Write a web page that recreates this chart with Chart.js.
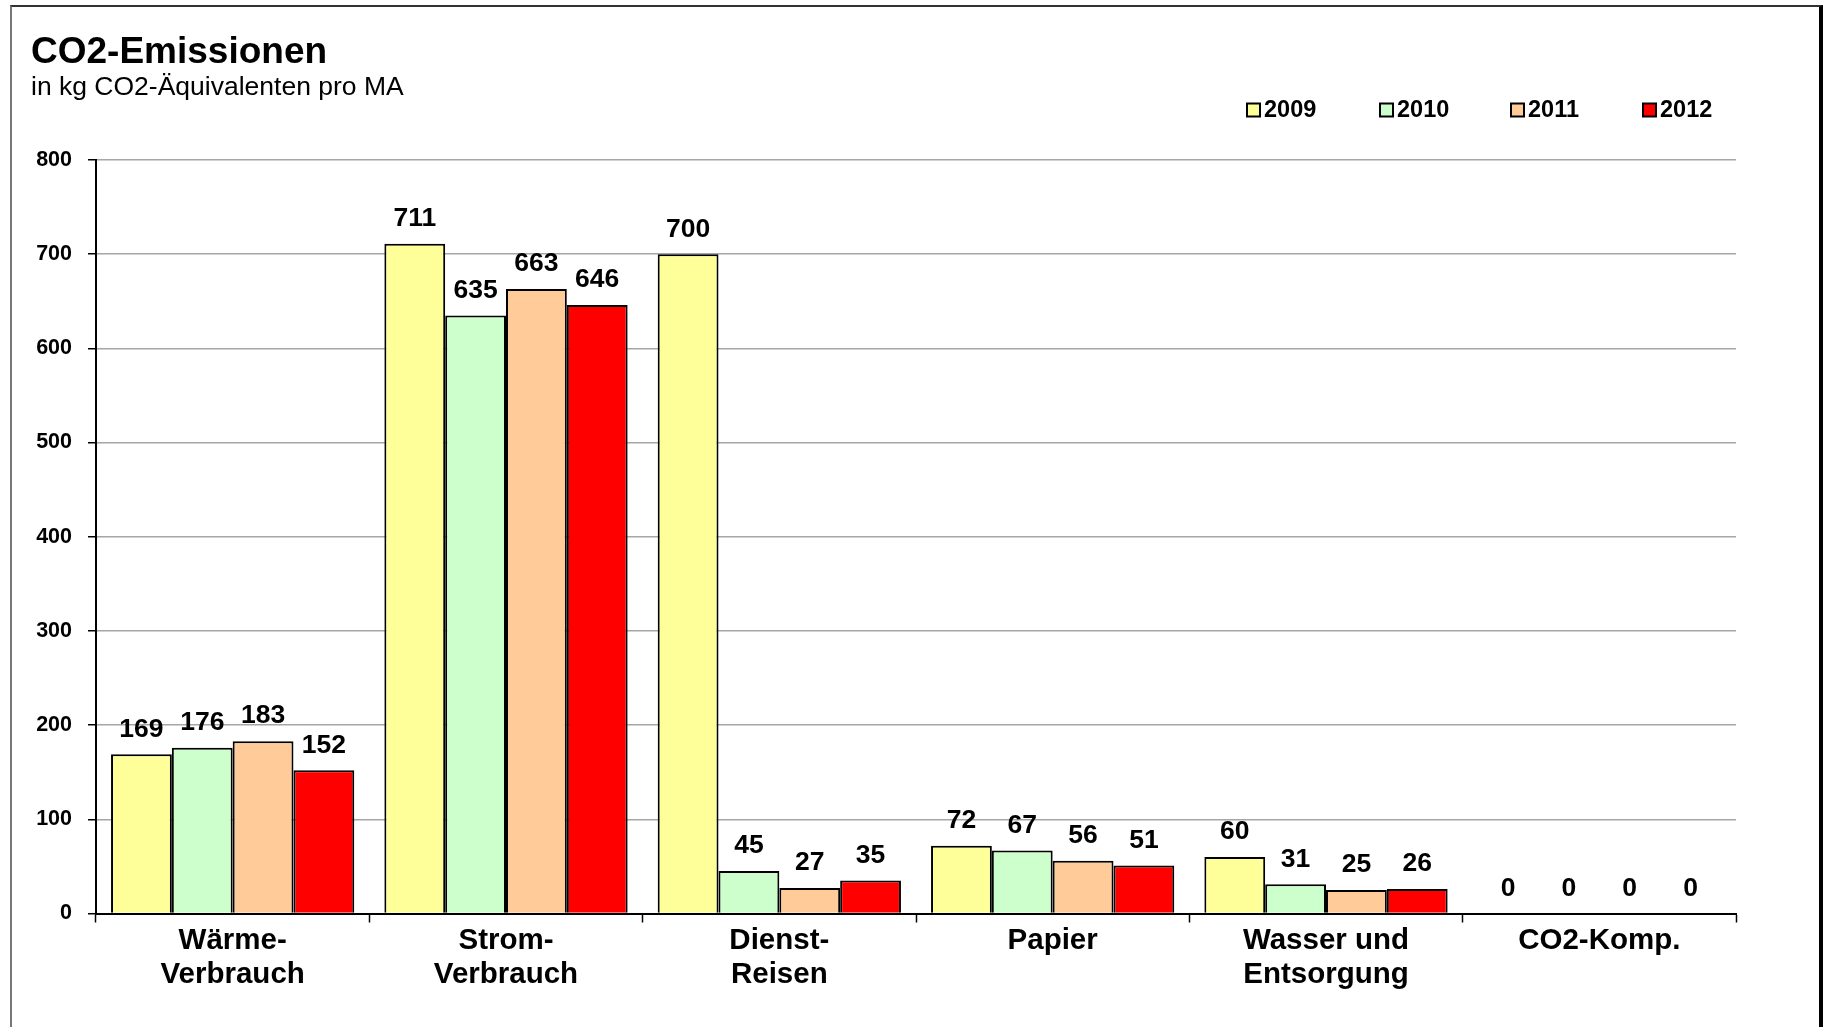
<!DOCTYPE html>
<html>
<head>
<meta charset="utf-8">
<script src="https://cdn.jsdelivr.net/npm/chart.js@4/dist/chart.umd.min.js"></script>
<style>
  html, body { margin: 0; padding: 0; background: #fff; }
  #wrap { position: relative; width: 1827px; height: 1027px; overflow: hidden; }
  #frame {
    position: absolute; left: 10px; top: 5px; width: 1813px; height: 1040px;
    border-left: 2px solid #777; border-top: 2px solid #333; border-right: 4px solid #000;
    box-sizing: border-box; pointer-events: none;
  }
  canvas { position: absolute; left: 0; top: 0; }
</style>
</head>
<body>
<div id="wrap">
  <canvas id="c" width="1827" height="1027"></canvas>
  <div id="frame"></div>
</div>
<script>
// Emission categories (multi-line axis labels)
const categories = [
  ['Wärme-', 'Verbrauch'],
  ['Strom-', 'Verbrauch'],
  ['Dienst-', 'Reisen'],
  ['Papier'],
  ['Wasser und', 'Entsorgung'],
  ['CO2-Komp.']
];
const years = ['2009', '2010', '2011', '2012'];
// kg CO2 equivalents per employee, one array per year
const values2009 = [169, 711, 700, 72, 60, 0];
const values2010 = [176, 635, 45, 67, 31, 0];
const values2011 = [183, 663, 27, 56, 25, 0];
const values2012 = [152, 646, 35, 51, 26, 0];
const yTicks = [0, 100, 200, 300, 400, 500, 600, 700, 800];

const colors = ['#FFFF99', '#CCFFCC', '#FFCC99', '#FF0000'];
const seriesValues = [values2009, values2010, values2011, values2012];
const FONT = '"Liberation Sans", Arial, Helvetica, sans-serif';

// Title, subtitle and legend drawn on top of the chart
const headerPlugin = {
  id: 'header',
  afterDraw(chart) {
    const ctx = chart.ctx;
    ctx.save();
    ctx.fillStyle = '#000';
    ctx.textBaseline = 'alphabetic';
    ctx.textAlign = 'left';
    ctx.font = 'bold 37px ' + FONT;
    ctx.fillText('CO2-Emissionen', 31, 63);
    ctx.font = '26.5px ' + FONT;
    ctx.fillText('in kg CO2-Äquivalenten pro MA', 31, 95);

    const boxX = [1247, 1380, 1511, 1643];
    const cy = 110;
    chart.data.datasets.forEach((ds, i) => {
      ctx.fillStyle = ds.backgroundColor;
      ctx.fillRect(boxX[i], cy - 6.5, 13, 13);
      ctx.strokeStyle = '#000';
      ctx.lineWidth = 2;
      ctx.strokeRect(boxX[i], cy - 6.5, 13, 13);
      ctx.fillStyle = '#000';
      ctx.font = 'bold 23.5px ' + FONT;
      ctx.textBaseline = 'middle';
      ctx.fillText(ds.label, boxX[i] + 17, cy + 1);
    });
    ctx.restore();
  }
};

// Value labels above every bar
const valueLabels = {
  id: 'valueLabels',
  afterDatasetsDraw(chart) {
    const ctx = chart.ctx;
    ctx.save();
    ctx.font = 'bold 26.5px ' + FONT;
    ctx.fillStyle = '#000';
    ctx.textAlign = 'center';
    ctx.textBaseline = 'middle';
    chart.data.datasets.forEach((ds, di) => {
      chart.getDatasetMeta(di).data.forEach((bar, i) => {
        ctx.fillText(String(ds.data[i]), bar.x, bar.y - 25);
      });
    });
    ctx.restore();
  }
};

new Chart(document.getElementById('c'), {
  type: 'bar',
  data: {
    labels: categories,
    datasets: years.map((y, i) => ({
      label: y,
      data: seriesValues[i],
      backgroundColor: colors[i],
      borderColor: '#000',
      borderWidth: 2,
      borderSkipped: 'bottom',
      categoryPercentage: 0.89,
      barPercentage: 1.0
    }))
  },
  options: {
    responsive: false,
    animation: false,
    layout: { padding: { top: 160, right: 91, left: 0, bottom: 0 } },
    plugins: {
      legend: { display: false },
      title: { display: false },
      tooltip: { enabled: false }
    },
    scales: {
      x: {
        offset: true,
        grid: {
          offset: true,
          drawOnChartArea: false,
          drawTicks: true,
          tickLength: 9,
          tickColor: '#000',
          tickWidth: 1.5
        },
        border: { color: '#000', width: 2 },
        ticks: {
          color: '#000',
          font: { family: FONT, size: 29.5, weight: 'bold', lineHeight: 1.17 },
          padding: 1,
          maxRotation: 0,
          autoSkip: false
        },
        afterFit(scale) { scale.height = 113.5; }
      },
      y: {
        min: 0,
        max: 800,
        afterBuildTicks(scale) { scale.ticks = yTicks.map(v => ({ value: v })); },
        grid: {
          color: '#a6a6a6',
          lineWidth: 1.5,
          tickLength: 8,
          tickColor: '#000',
          tickWidth: 1.5
        },
        border: { color: '#000', width: 2 },
        ticks: {
          color: '#000',
          padding: 16,
          font: { family: FONT, size: 21.5, weight: 'bold' }
        },
        afterFit(scale) { scale.width = 96; }
      }
    }
  },
  plugins: [headerPlugin, valueLabels]
});
</script>
</body>
</html>
